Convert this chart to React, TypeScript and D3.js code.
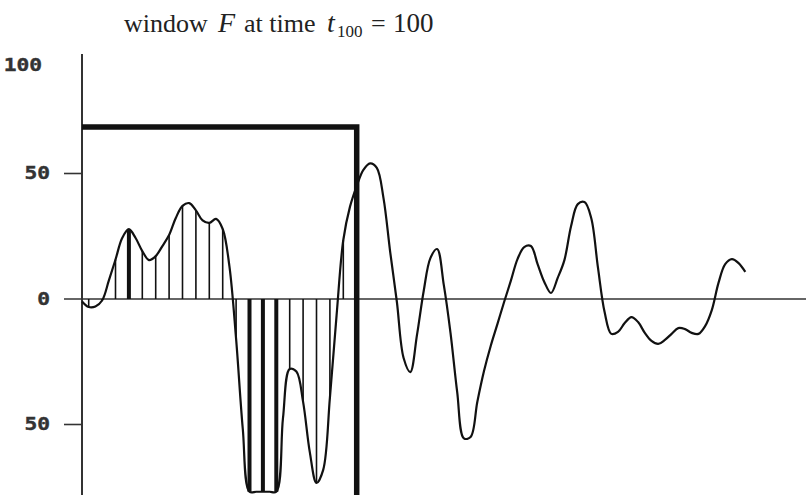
import React from "react";
import * as d3 from "d3";

// signal samples, starting at t = -2.5, one every 2.5 time units
const sampleStart = -2.5;
const sampleStep = 2.5;
const signal = [
  -1.0, -3.2, -3.0, -0.6, 7.3, 15.7, 24.3, 27.8, 24.3, 19.1, 15.5, 17.1, 21.1, 25.5, 32.3, 37.1, 38.2, 35.3,
  31.3, 30.3, 31.9, 27.9, 13.1, -15.9, -51.8, -76.8, -76.8, -76.8, -76.8, -76.8, -47.4, -27.9, -28.9, -41,
  -61, -73.3, -68.1, -39.4, -6.4, 23.5, 36.8, 45, 51.4, 54, 52.2, 40.2, 18.7, -1.2, -23.5, -29.1, -14.3, 3.2,
  16.3, 19.9, 5.6, -13.5, -37.1, -55.5, -55, -41, -28.7, -18.7, -10, -1.2, 7.2, 15.9, 20.7, 21.1, 13.9, 6.8,
  2.4, 8.4, 15.5, 29.1, 37.8, 38.6, 32.3, 12.7, -5.2, -13.9, -13.1, -9.6, -7.2, -9.2, -13.5, -16.7, -17.9,
  -16.3, -13.9, -11.6, -12, -13.5, -13.9, -10.8, -4.4, 6.4, 13.9, 15.9, 14.3, 10.8,
];

// window F
const windowStart = -2.5;
const windowEnd = 100; // t_100
const windowHeight = 68.5;
const stemStep = 5;
const boldStems = [15, 60, 65, 70];

// y tick labels
const tickValues = [100, 50, 0, -50];
const tickMarks = [50, -50];

export default function App() {
  const W = 806;
  const H = 495;
  const x = d3.scaleLinear().domain([0, 100]).range([88.7, 356.7]);
  const y = d3.scaleLinear().domain([-50, 50]).range([424.5, 173.5]);

  const pts: [number, number][] = signal.map((v, i) => [sampleStart + i * sampleStep, v]);
  const line = d3
    .line<[number, number]>()
    .x((d) => x(d[0]))
    .y((d) => y(d[1]))
    .curve(d3.curveCatmullRom.alpha(0.5));

  const stems = pts.filter((p) => p[0] >= 0 && p[0] <= windowEnd && Math.abs(p[0] % stemStep) < 1e-9);

  const axisX = x(windowStart);
  const axisTop = y(97.6);
  const y0 = y(0);
  const serif = "'Liberation Serif', 'Times New Roman', serif";

  return (
    <svg width={W} height={H} style={{ position: "absolute", left: 0, top: 0, background: "#fff" }}>
      <rect x={0} y={0} width={W} height={H} fill="#fff" />
      {/* title */}
      <g fontFamily={serif} fill="#222">
        <text x={124} y={32} fontSize={26}>window</text>
        <text x={218} y={32} fontSize={28} fontStyle="italic">F</text>
        <text x={244} y={32} fontSize={26}>at time</text>
        <text x={327} y={32} fontSize={28} fontStyle="italic">t</text>
        <text x={337} y={37} fontSize={17}>100</text>
        <text x={371} y={32} fontSize={26}>=</text>
        <text x={393} y={32} fontSize={27}>100</text>
      </g>

      {/* zero line */}
      <line x1={64} x2={W} y1={y0} y2={y0} stroke="#333" strokeWidth={1.6} />
      {/* y axis */}
      <line x1={axisX} x2={axisX} y1={axisTop} y2={H} stroke="#333" strokeWidth={2} />
      {tickMarks.map((v) => (
        <line key={v} x1={64} x2={axisX} y1={y(v)} y2={y(v)} stroke="#333" strokeWidth={1.6} />
      ))}
      {tickValues.map((v) => {
        const clamped = y(v) < axisTop + 11;
        return (
          <text
            key={v}
            transform={`translate(${clamped ? 42 : 50},${clamped ? axisTop + 11 : y(v)}) scale(1.25,1)`}
            textAnchor="end"
            dominantBaseline="central"
            fontFamily="'DejaVu Sans Mono', monospace"
            fontWeight="bold"
            fontSize={17}
            fill="#333"
            stroke="#333"
            strokeWidth={0.4}
          >
            {String(Math.abs(v))}
          </text>
        );
      })}

      {/* stems */}
      {stems.map((p) => (
        <line
          key={p[0]}
          x1={x(p[0])}
          x2={x(p[0])}
          y1={y0}
          y2={y(p[1])}
          stroke="#111"
          strokeWidth={boldStems.includes(p[0]) ? 4 : 1.6}
        />
      ))}

      {/* signal */}
      <path d={line(pts) || ""} fill="none" stroke="#111" strokeWidth={2.2} strokeLinejoin="round" />

      {/* window F */}
      <path
        d={`M${axisX},${y(windowHeight)} H${x(windowEnd)} V${H}`}
        fill="none"
        stroke="#111"
        strokeWidth={5.5}
      />
    </svg>
  );
}
